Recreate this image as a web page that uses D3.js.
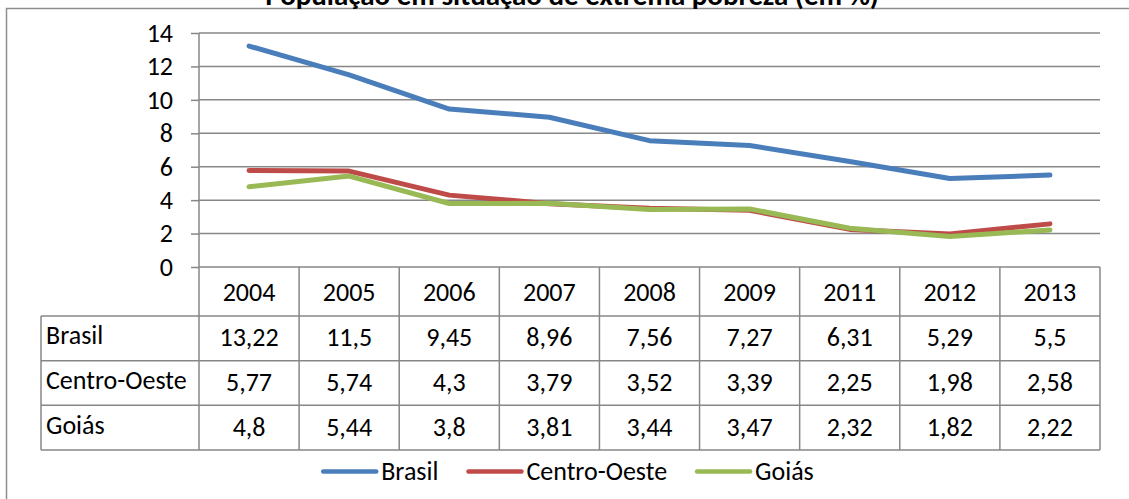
<!DOCTYPE html>
<html><head><meta charset="utf-8">
<script src="https://cdn.jsdelivr.net/npm/d3@7"></script>
<style>
body{margin:0;background:#fff}
svg{display:block}
text{font-family:Calibri,Carlito,Lato,sans-serif;fill:#000}
</style>
</head><body>
<svg id="c" width="1129" height="499"></svg>
<script>
const title = "População em situação de extrema pobreza (em %)";
const years = ["2004","2005","2006","2007","2008","2009","2011","2012","2013"];
const seriesNames = ["Brasil","Centro-Oeste","Goiás"];
const brasil = [13.22,11.5,9.45,8.96,7.56,7.27,6.31,5.29,5.5];
const centroOeste = [5.77,5.74,4.3,3.79,3.52,3.39,2.25,1.98,2.58];
const goias = [4.8,5.44,3.8,3.81,3.44,3.47,2.32,1.82,2.22];
const yTicks = [0,2,4,6,8,10,12,14];
const seriesColors = ["#4A7EBB","#BE4B48","#98B954"];
const series = [brasil, centroOeste, goias];
const valueLabels = [
  ["13,22","11,5","9,45","8,96","7,56","7,27","6,31","5,29","5,5"],
  ["5,77","5,74","4,3","3,79","3,52","3,39","2,25","1,98","2,58"],
  ["4,8","5,44","3,8","3,81","3,44","3,47","2,32","1,82","2,22"]
];

const svg = d3.select("#c");
const gridColor = "#878787";
const fs = 26;
const ff = "Calibri,Carlito,Lato,sans-serif";

// outer frame
svg.append("path").attr("d","M6.5,499 V8.5 H1129")
  .attr("fill","none").attr("stroke","#8e8e8e").attr("stroke-width",1.5);

// title (partly cut off at top, as in the reference)
svg.append("text").attr("x",572).attr("y",4.5).attr("text-anchor","middle")
  .attr("font-weight","bold").attr("font-size",29).text(title);

const x = d3.scaleBand().domain(years).range([199,1100]);
const y = d3.scaleLinear().domain([0,14]).range([267,33]);
const rows = d3.scaleBand().domain(seriesNames).range([316,450]);
const headerTop = 267, headerBottom = 316, labelLeft = 41;

// gridlines
svg.append("g").selectAll("line").data(yTicks.filter(d=>d>0)).join("line")
  .attr("x1",199).attr("x2",1100).attr("y1",d=>y(d)).attr("y2",d=>y(d))
  .attr("stroke",gridColor).attr("stroke-width",1.5);

// y axis
const yAxis = svg.append("g").attr("transform","translate(199,0)")
  .call(d3.axisLeft(y).tickValues(yTicks).tickSize(8).tickPadding(18));
yAxis.select(".domain").remove();
yAxis.selectAll(".tick line").attr("stroke",gridColor).attr("stroke-width",1.5);
yAxis.selectAll(".tick text").attr("font-size",fs).attr("font-family",ff).attr("fill","#000");

// table lines
const tg = svg.append("g").attr("stroke",gridColor).attr("stroke-width",1.5).attr("fill","none");
tg.append("line").attr("x1",199).attr("x2",1100).attr("y1",headerTop).attr("y2",headerTop);
[headerBottom, ...seriesNames.map(n=>rows(n)+rows.bandwidth())].forEach(yy=>{
  tg.append("line").attr("x1",labelLeft).attr("x2",1100).attr("y1",yy).attr("y2",yy);
});
const colEdges = years.map(d=>x(d)).concat([x.range()[1]]);
colEdges.forEach(xx=>{
  tg.append("line").attr("x1",xx).attr("x2",xx).attr("y1",xx===199?33:headerTop).attr("y2",450);
});
tg.append("line").attr("x1",labelLeft).attr("x2",labelLeft).attr("y1",headerBottom).attr("y2",450);

// header text
svg.append("g").selectAll("text").data(years).join("text")
  .attr("x",d=>x(d)+x.bandwidth()/2).attr("y",(headerTop+headerBottom)/2+9)
  .attr("text-anchor","middle").attr("font-size",fs).text(d=>d);

// row labels & values
seriesNames.forEach((name,si)=>{
  const cy = rows(name)+rows.bandwidth()/2;
  svg.append("text").attr("x",labelLeft+5).attr("y",cy+6).attr("font-size",fs).text(name);
  svg.append("g").selectAll("text").data(valueLabels[si]).join("text")
    .attr("x",(d,i)=>x(years[i])+x.bandwidth()/2).attr("y",cy+8)
    .attr("text-anchor","middle").attr("font-size",fs).text(d=>d);
});

// lines
const line = d3.line().x((d,i)=>x(years[i])+x.bandwidth()/2).y(d=>y(d));
series.forEach((s,i)=>{
  svg.append("path").datum(s).attr("d",line).attr("fill","none")
    .attr("stroke",seriesColors[i]).attr("stroke-width",5)
    .attr("stroke-linejoin","round").attr("stroke-linecap","round");
});

// legend
const lg = svg.append("g");
const lineLen = 53, gapLT = 3, gapItem = 28;
const items = [];
seriesNames.forEach((name,i)=>{
  const g = lg.append("g");
  g.append("line").attr("x1",2).attr("x2",lineLen+2).attr("y1",0).attr("y2",0)
    .attr("stroke",seriesColors[i]).attr("stroke-width",4.5).attr("stroke-linecap","round");
  const t = g.append("text").attr("x",lineLen+4+gapLT).attr("y",8).attr("font-size",fs).text(name);
  const w = lineLen+4+gapLT+t.node().getComputedTextLength();
  items.push({g,w});
});
const total = d3.sum(items,d=>d.w)+gapItem*(items.length-1);
let start = 567.5 - total/2;
items.forEach(it=>{ it.g.attr("transform",`translate(${start},471.5)`); start += it.w+gapItem; });
</script>
</body></html>
